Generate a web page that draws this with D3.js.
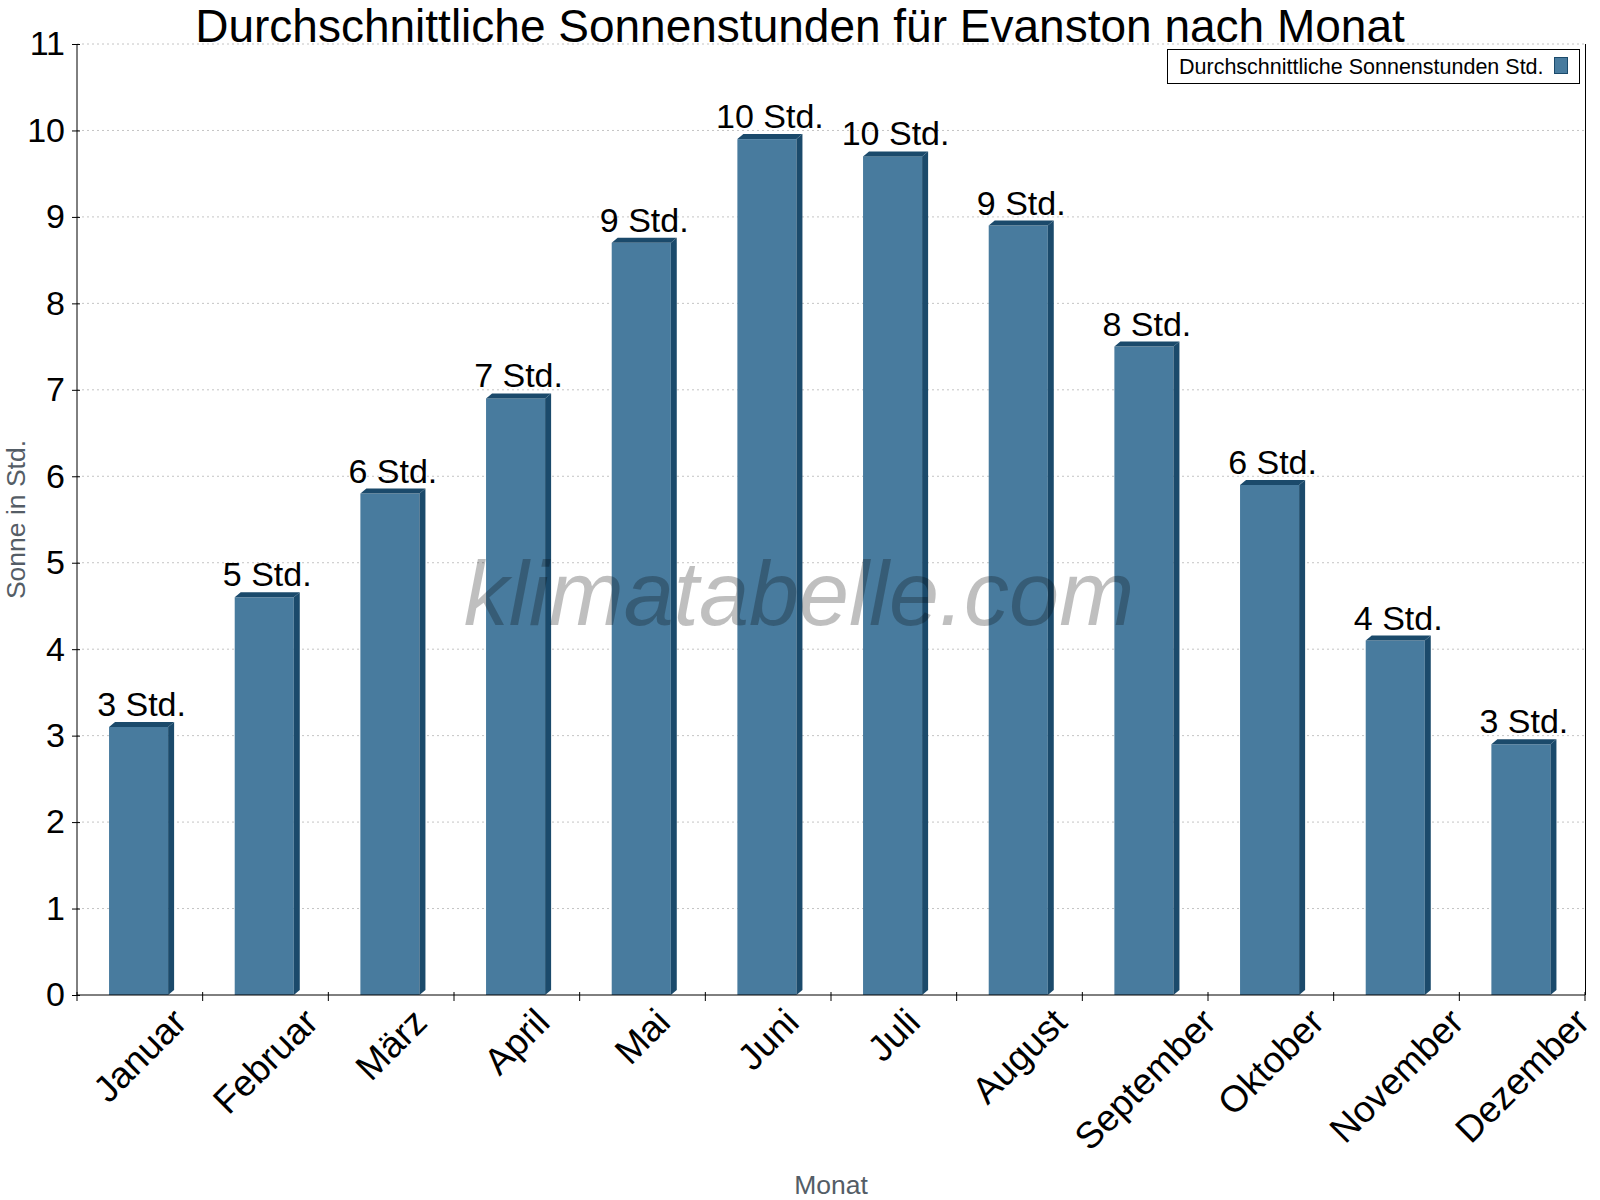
<!DOCTYPE html>
<html>
<head>
<meta charset="utf-8">
<script src="https://cdn.jsdelivr.net/npm/d3@7"></script>
<style>
  body { margin: 0; background: #fff; }
  svg { font-family: "Liberation Sans", Arial, sans-serif; }
</style>
</head>
<body>
<div id="chart"></div>
<script>
// data
var months = ["Januar", "Februar", "März", "April", "Mai", "Juni", "Juli",
              "August", "September", "Oktober", "November", "Dezember"];
var sunHours = [3.1, 4.6, 5.8, 6.9, 8.7, 9.9, 9.7, 8.9, 7.5, 5.9, 4.1, 2.9];
var yTicks = [0, 1, 2, 3, 4, 5, 6, 7, 8, 9, 10, 11];

var W = 1600, H = 1200;
var margin = { top: 44, right: 15, bottom: 205, left: 77 };
var width = W - margin.left - margin.right,
    height = H - margin.top - margin.bottom;

var frontColor = "#487b9e", darkColor = "#1b4a6b";
var dx = 6, dy = 5;

var svg = d3.select("#chart").append("svg")
    .attr("width", W).attr("height", H);

var g = svg.append("g")
    .attr("transform", "translate(" + margin.left + "," + margin.top + ")");

var x = d3.scaleBand().domain(months).range([0, width]);
var y = d3.scaleLinear().domain([0, 11]).range([height, 0]);
var bw = x.bandwidth();

// grid
g.selectAll(".grid").data(yTicks.filter(function (d) { return d > 0; }))
  .enter().append("line")
    .attr("x1", 0).attr("x2", width)
    .attr("y1", function (d) { return y(d); })
    .attr("y2", function (d) { return y(d); })
    .attr("stroke", "#c4c4c4")
    .attr("stroke-dasharray", "2,3");

// bars
var bar = g.selectAll(".bar").data(months)
  .enter().append("g").attr("class", "bar");

function bx(m) { return x(m) + bw * 0.255; }
var fw = bw * 0.47;

bar.append("rect")
    .attr("x", function (m) { return bx(m); })
    .attr("y", function (m, i) { return y(sunHours[i]); })
    .attr("width", fw)
    .attr("height", function (m, i) { return height - y(sunHours[i]); })
    .attr("fill", frontColor);

// side face
bar.append("path")
    .attr("d", function (m, i) {
        var x1 = bx(m) + fw, yt = y(sunHours[i]);
        return "M" + x1 + "," + yt + "L" + (x1 + dx) + "," + (yt - dy) +
               "L" + (x1 + dx) + "," + (height - dy) + "L" + x1 + "," + height + "Z";
    })
    .attr("fill", darkColor);

// top face
bar.append("path")
    .attr("d", function (m, i) {
        var x0 = bx(m), x1 = x0 + fw, yt = y(sunHours[i]);
        return "M" + x0 + "," + yt + "L" + (x0 + dx) + "," + (yt - dy) +
               "L" + (x1 + dx) + "," + (yt - dy) + "L" + x1 + "," + yt + "Z";
    })
    .attr("fill", darkColor);

// value labels
bar.append("text")
    .attr("x", function (m) { return bx(m) + fw / 2 + 3; })
    .attr("y", function (m, i) { return y(sunHours[i]) - dy - 6; })
    .attr("text-anchor", "middle")
    .attr("font-size", "34px")
    .attr("fill", "#000")
    .text(function (m, i) { return Math.round(sunHours[i]) + " Std."; });

// watermark over the bars
g.append("text")
    .attr("x", 722).attr("y", 581)
    .attr("text-anchor", "middle")
    .attr("font-style", "italic")
    .attr("font-size", "90px")
    .attr("fill", "#000").attr("fill-opacity", 0.25)
    .text("klimatabelle.com");

// y axis
var yAxis = g.append("g")
    .call(d3.axisLeft(y).tickValues(yTicks).tickSize(5).tickPadding(7).tickFormat(d3.format("d")));
yAxis.selectAll("text").attr("font-size", "34px").attr("fill", "#000")
    .attr("font-family", "Liberation Sans, Arial, sans-serif");
yAxis.selectAll(".tick line").attr("x2", -5).attr("x1", 3);
yAxis.select(".domain").attr("d", "M0,0V" + height);

// right frame line
g.append("line")
    .attr("x1", width + 0.5).attr("x2", width + 0.5)
    .attr("y1", 0).attr("y2", height)
    .attr("stroke", "#000");

// x axis
var xAxis = g.append("g").attr("transform", "translate(0," + height + ")");
xAxis.append("line").attr("x1", 0).attr("x2", width).attr("stroke", "#000");
xAxis.selectAll(".xt").data(d3.range(months.length + 1))
  .enter().append("line")
    .attr("x1", function (i) { return i * bw; })
    .attr("x2", function (i) { return i * bw; })
    .attr("y1", -3).attr("y2", 6)
    .attr("stroke", "#000");

// rotated month labels: centred on the band, top edge just under the axis
xAxis.selectAll(".xl").data(months)
  .enter().append("text")
    .attr("text-anchor", "middle")
    .attr("dominant-baseline", "central")
    .attr("font-size", "37px")
    .attr("fill", "#000")
    .text(function (m) { return m; })
    .attr("transform", function (m) {
        var w = this.getComputedTextLength();
        var cy = 11 + (w + 27) * 0.7071 / 2;
        return "translate(" + (x(m) + bw / 2) + "," + cy + ") rotate(-45)";
    });

// axis titles
svg.append("text")
    .attr("x", margin.left + width / 2).attr("y", 1194)
    .attr("text-anchor", "middle")
    .attr("font-size", "26.5px").attr("fill", "#545d66")
    .text("Monat");

svg.append("text")
    .attr("transform", "translate(25," + (margin.top + height / 2) + ") rotate(-90)")
    .attr("text-anchor", "middle")
    .attr("font-size", "26.5px").attr("fill", "#545d66")
    .text("Sonne in Std.");

// title
svg.append("text")
    .attr("x", W / 2).attr("y", 42)
    .attr("text-anchor", "middle")
    .attr("font-size", "46px").attr("fill", "#000")
    .text("Durchschnittliche Sonnenstunden für Evanston nach Monat");

// legend
var leg = svg.append("g");
leg.append("rect")
    .attr("x", 1167.5).attr("y", 49.5).attr("width", 412).attr("height", 34)
    .attr("fill", "#fff").attr("stroke", "#000");
leg.append("text")
    .attr("x", 1179).attr("y", 74)
    .attr("font-size", "21.5px").attr("fill", "#000")
    .text("Durchschnittliche Sonnenstunden Std.");
leg.append("rect")
    .attr("x", 1554.5).attr("y", 57.5).attr("width", 13).attr("height", 16)
    .attr("fill", frontColor).attr("stroke", darkColor);
</script>
</body>
</html>
